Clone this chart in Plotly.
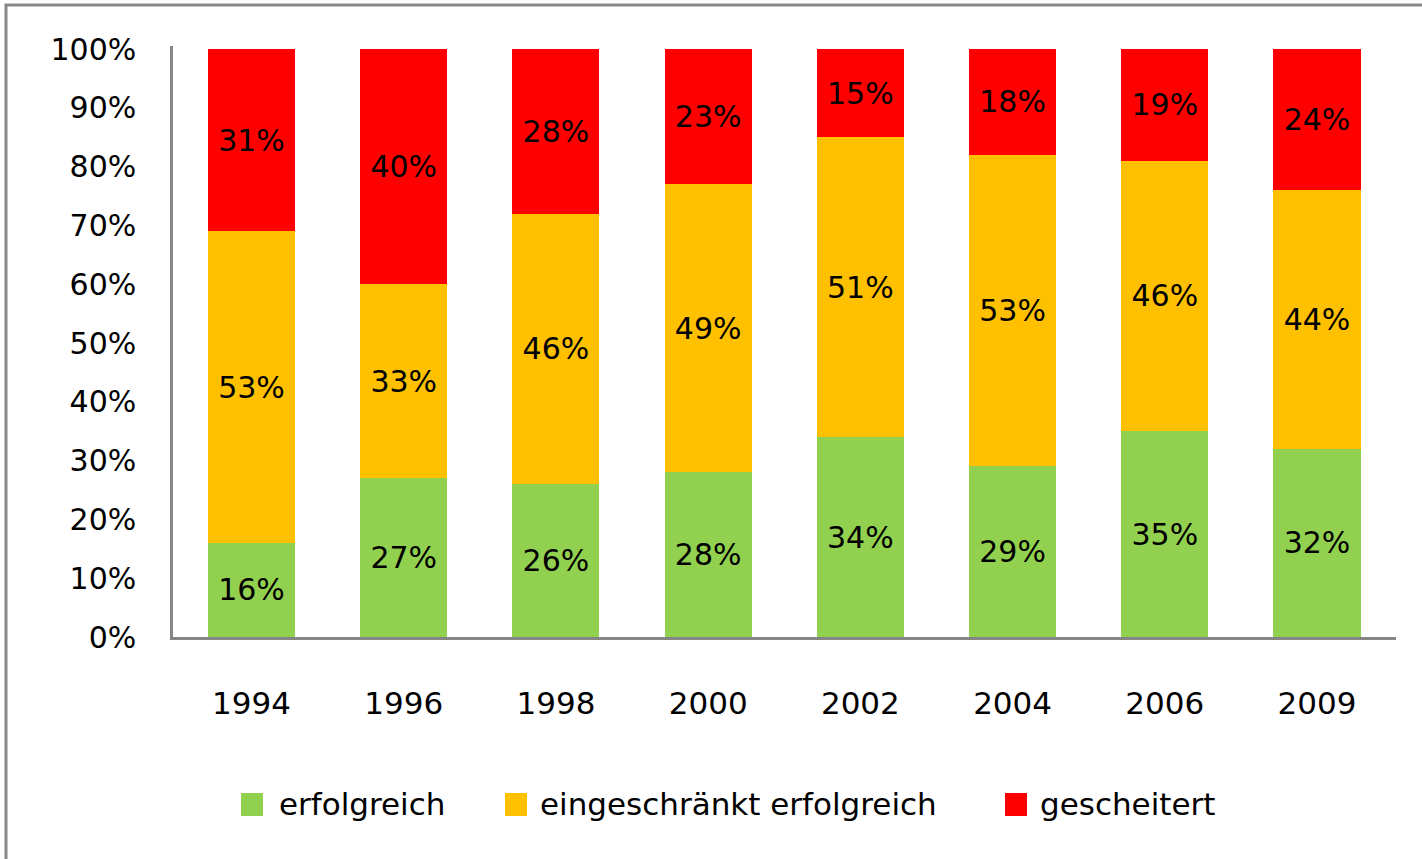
import plotly.graph_objects as go

years = ["1994", "1996", "1998", "2000", "2002", "2004", "2006", "2009"]
erfolgreich = [16, 27, 26, 28, 34, 29, 35, 32]
eingeschraenkt = [53, 33, 46, 49, 51, 53, 46, 44]
gescheitert = [31, 40, 28, 23, 15, 18, 19, 24]
series_names = ["erfolgreich", "eingeschränkt erfolgreich", "gescheitert"]
colors = ["#92D050", "#FFC000", "#FF0000"]
y_ticks = [0, 10, 20, 30, 40, 50, 60, 70, 80, 90, 100]

FONT = "DejaVu Sans"
W, H = 1422, 859
ML, MR, MT, MB = 173, 26, 46, 222

fig = go.Figure()
for name, vals, col in zip(series_names, [erfolgreich, eingeschraenkt, gescheitert], colors):
    fig.add_trace(go.Bar(
        x=years, y=[v / 100 for v in vals], name=name,
        marker=dict(color=col, line=dict(width=0)),
        text=[f"{v}%" for v in vals], textposition="inside",
        insidetextanchor="middle", constraintext="none",
        textfont=dict(family=FONT, size=30, color="black"),
        showlegend=False, hoverinfo="skip",
    ))

# pixel -> paper helpers
pw = W - ML - MR
ph = H - MT - MB
def px(x):
    return (x - ML) / pw
def py(y):
    return (H - MB - y) / ph

shapes = [dict(type="rect", xref="paper", yref="paper",
               x0=px(6), x1=px(1500), y0=py(5), y1=py(900),
               line=dict(color="#888888", width=3), fillcolor="rgba(0,0,0,0)", layer="below")]
annotations = []
legend_items = [(241, 277), (505, 538), (1005, 1038)]
for (sx, tx), name, col in zip(legend_items, series_names, colors):
    shapes.append(dict(type="rect", xref="paper", yref="paper",
                       x0=px(sx), x1=px(sx + 22), y0=py(793), y1=py(816),
                       line=dict(width=0), fillcolor=col))
    annotations.append(dict(xref="paper", yref="paper", x=px(tx), y=py(804),
                            xanchor="left", yanchor="middle", showarrow=False,
                            text=name, font=dict(family=FONT, size=31, color="black")))

fig.update_layout(
    barmode="stack", bargap=0.428,
    width=W, height=H,
    margin=dict(l=ML, r=MR, t=MT, b=MB, pad=0),
    paper_bgcolor="white", plot_bgcolor="white",
    font=dict(family=FONT, size=31, color="black"),
    shapes=shapes, annotations=annotations,
    showlegend=False,
    xaxis=dict(type="category", range=[-0.516, 7.519], showgrid=False, showline=True,
               linecolor="#868686", linewidth=2.5, ticks="", ticklabelstandoff=37,
               tickfont=dict(family=FONT, size=31, color="black"), zeroline=False),
    yaxis=dict(range=[0, 1.0051], tickvals=[v / 100 for v in y_ticks],
               ticktext=[f"{v}%" for v in y_ticks], showgrid=False, showline=True,
               linecolor="#868686", linewidth=2.5, ticks="", ticklabelstandoff=28,
               tickfont=dict(family=FONT, size=30, color="black"), zeroline=False),
)

fig.write_html("out.html", config={"displayModeBar": False},
               post_script="document.body.style.margin='0';document.body.style.overflow='hidden';")
